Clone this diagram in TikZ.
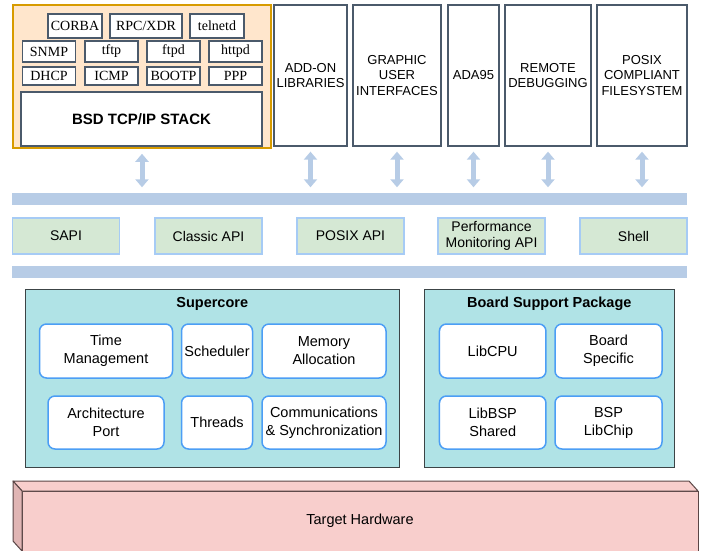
\documentclass[tikz,border=0pt]{standalone}
\usepackage{fontspec}
\setmainfont{Liberation Sans}
\newfontfamily\serifbox{Liberation Serif}
\usetikzlibrary{arrows.meta}
\definecolor{netfill}{HTML}{FFE6CC}
\definecolor{netdraw}{HTML}{D79B00}
\definecolor{slate}{HTML}{4B5A6B}
\definecolor{busblue}{HTML}{B7CCE6}
\definecolor{apifill}{HTML}{D5E8D4}
\definecolor{apidraw}{HTML}{A6CBF5}
\definecolor{corefill}{HTML}{B0E3E6}
\definecolor{coredraw}{HTML}{3C4446}
\definecolor{unitdraw}{HTML}{4C9EF5}
\definecolor{hwfill}{HTML}{F8CECC}
\definecolor{hwside}{HTML}{E0B5B4}
\definecolor{hwdraw}{HTML}{5A4646}

\begin{document}
\begin{tikzpicture}[x=1pt,y=-1pt,
  netarea/.style={draw=netdraw,fill=netfill,line width=1.5pt,inner sep=0pt,minimum width=258pt,minimum height=143pt},
  proto/.style={draw=slate,fill=white,line width=1.3pt,inner sep=0pt,minimum width=53pt,minimum height=#1,font=\serifbox\fontsize{14}{16}\selectfont},
  stack/.style={draw=slate,fill=white,line width=1.3pt,inner sep=0pt,font=\bfseries\fontsize{15}{17}\selectfont},
  module/.style={draw=slate,fill=white,line width=1.3pt,inner sep=1pt,minimum height=141pt,align=center,font=\fontsize{13}{15.5}\selectfont},
  bus/.style={fill=busblue,inner sep=0pt,minimum width=675pt,minimum height=12pt},
  api/.style={draw=apidraw,fill=apifill,line width=1.5pt,inner sep=1pt,minimum width=107pt,minimum height=36pt,align=center,font=\fontsize{14}{16}\selectfont},
  layer/.style={draw=coredraw,fill=corefill,line width=1pt,inner sep=0pt,minimum height=178pt},
  title/.style={font=\bfseries\fontsize{14.5}{17}\selectfont},
  unit/.style={draw=unitdraw,fill=white,line width=1.5pt,rounded corners=7pt,inner sep=1pt,align=center,font=\fontsize{14.5}{18}\selectfont},
  hwbox/.style={draw=hwdraw,fill=hwfill,line width=1pt,inner sep=0pt,outer sep=0pt,minimum width=676pt,minimum height=60pt,font=\fontsize{14.5}{17}\selectfont},
  link/.style={draw=busblue,line width=5pt,{Triangle[width=13pt,length=8pt]}-{Triangle[width=13pt,length=8pt]},shorten <=5pt,shorten >=5pt}]
  \useasboundingbox (0,0) rectangle (701,550);
  \node[netarea] (netbox) at (142,76.5) {};
  \node[proto=24pt,minimum width=54pt] (corba) at (75,26) {CORBA};
  \node[proto=24pt,minimum width=72pt] (rpc) at (146,26) {RPC/XDR};
  \node[proto=24pt,minimum width=54pt] (telnetd) at (217,26) {telnetd};
  \node[proto=21pt] (snmp) at (49,51.5) {SNMP};
  \node[proto=21pt] (tftp) at (111.5,51.5) {tftp};
  \node[proto=21pt] (ftpd) at (173.5,51.5) {ftpd};
  \node[proto=21pt] (httpd) at (235.5,51.5) {httpd};
  \node[proto=18pt] (dhcp) at (49,76) {DHCP};
  \node[proto=18pt] (icmp) at (111.5,76) {ICMP};
  \node[proto=18pt] (bootp) at (173.5,76) {BOOTP};
  \node[proto=18pt] (ppp) at (235.5,76) {PPP};
  \node[stack,minimum width=241pt,minimum height=54pt] (tcpip) at (141.5,119) {BSD TCP/IP STACK};
  \node[module,minimum width=73pt] (addon) at (310.5,75.5) {ADD-ON\\LIBRARIES};
  \node[module,minimum width=88pt] (gui) at (397,75.5) {GRAPHIC\\USER\\INTERFACES};
  \node[module,minimum width=51pt] (ada) at (473.5,75.5) {ADA95};
  \node[module,minimum width=86pt] (remote) at (548,75.5) {REMOTE\\DEBUGGING};
  \node[module,minimum width=90pt] (posix) at (642,75.5) {POSIX\\COMPLIANT\\FILESYSTEM};
  \node[bus] (bus1) at (349.5,198.5) {};
  \node[api] (sapi) at (66,236) {SAPI};
  \node[api] (classic) at (208.5,236) {Classic API};
  \node[api] (posixapi) at (350.5,236) {POSIX API};
  \node[api] (perf) at (491.5,236) {Performance\\Monitoring API};
  \node[api] (shell) at (633.5,236) {Shell};
  \node[bus] (bus2) at (349.5,271.5) {};
  \node[layer,minimum width=373.5pt] (core) at (212.25,378) {};
  \node[title] (coretitle) at ([yshift=-15pt]core.north) {Supercore};
  \node[unit,minimum width=133pt,minimum height=54pt] (time) at (106,351) {Time\\Management};
  \node[unit,minimum width=71pt,minimum height=54pt] (sched) at (217,351) {Scheduler};
  \node[unit,minimum width=124pt,minimum height=54pt] (mem) at (324,351) {Memory\\Allocation};
  \node[unit,minimum width=116pt,minimum height=53pt] (arch) at (106,422.5) {Architecture\\Port};
  \node[unit,minimum width=71pt,minimum height=53pt] (threads) at (217,422.5) {Threads};
  \node[unit,minimum width=124pt,minimum height=53pt] (comm) at (324,422.5) {Communications\\\& Synchronization};
  \node[layer,minimum width=249.4pt] (bsp) at (549.3,378) {};
  \node[title] (bsptitle) at ([yshift=-15pt]bsp.north) {Board Support Package};
  \node[unit,minimum width=106.5pt,minimum height=54pt] (libcpu) at (492.7,351) {LibCPU};
  \node[unit,minimum width=107pt,minimum height=54pt] (board) at (608.5,351) {Board\\Specific};
  \node[unit,minimum width=106.5pt,minimum height=53pt] (libbsp) at (492.7,422.5) {LibBSP\\Shared};
  \node[unit,minimum width=107pt,minimum height=53pt] (libchip) at (608.5,422.5) {BSP\\LibChip};
  \node[hwbox] (hw) at (360,521) {Target Hardware};
  \draw[hwdraw,fill=hwfill,line width=1pt,line join=round] ([shift={(-9,-10)}]hw.north west) -- ([shift={(-9,-10)}]hw.north east) -- (hw.north east) -- (hw.north west) -- cycle;
  \draw[hwdraw,fill=hwside,line width=1pt,line join=round] ([shift={(-9,-10)}]hw.north west) -- (hw.north west) -- (hw.south west) -- ([shift={(-9,-10)}]hw.south west) -- cycle;
  \foreach \n in {netbox,addon,gui,ada,remote,posix}
    \draw[link] (\n.south) -- (\n.south |- bus1.north);
\end{tikzpicture}
\end{document}
